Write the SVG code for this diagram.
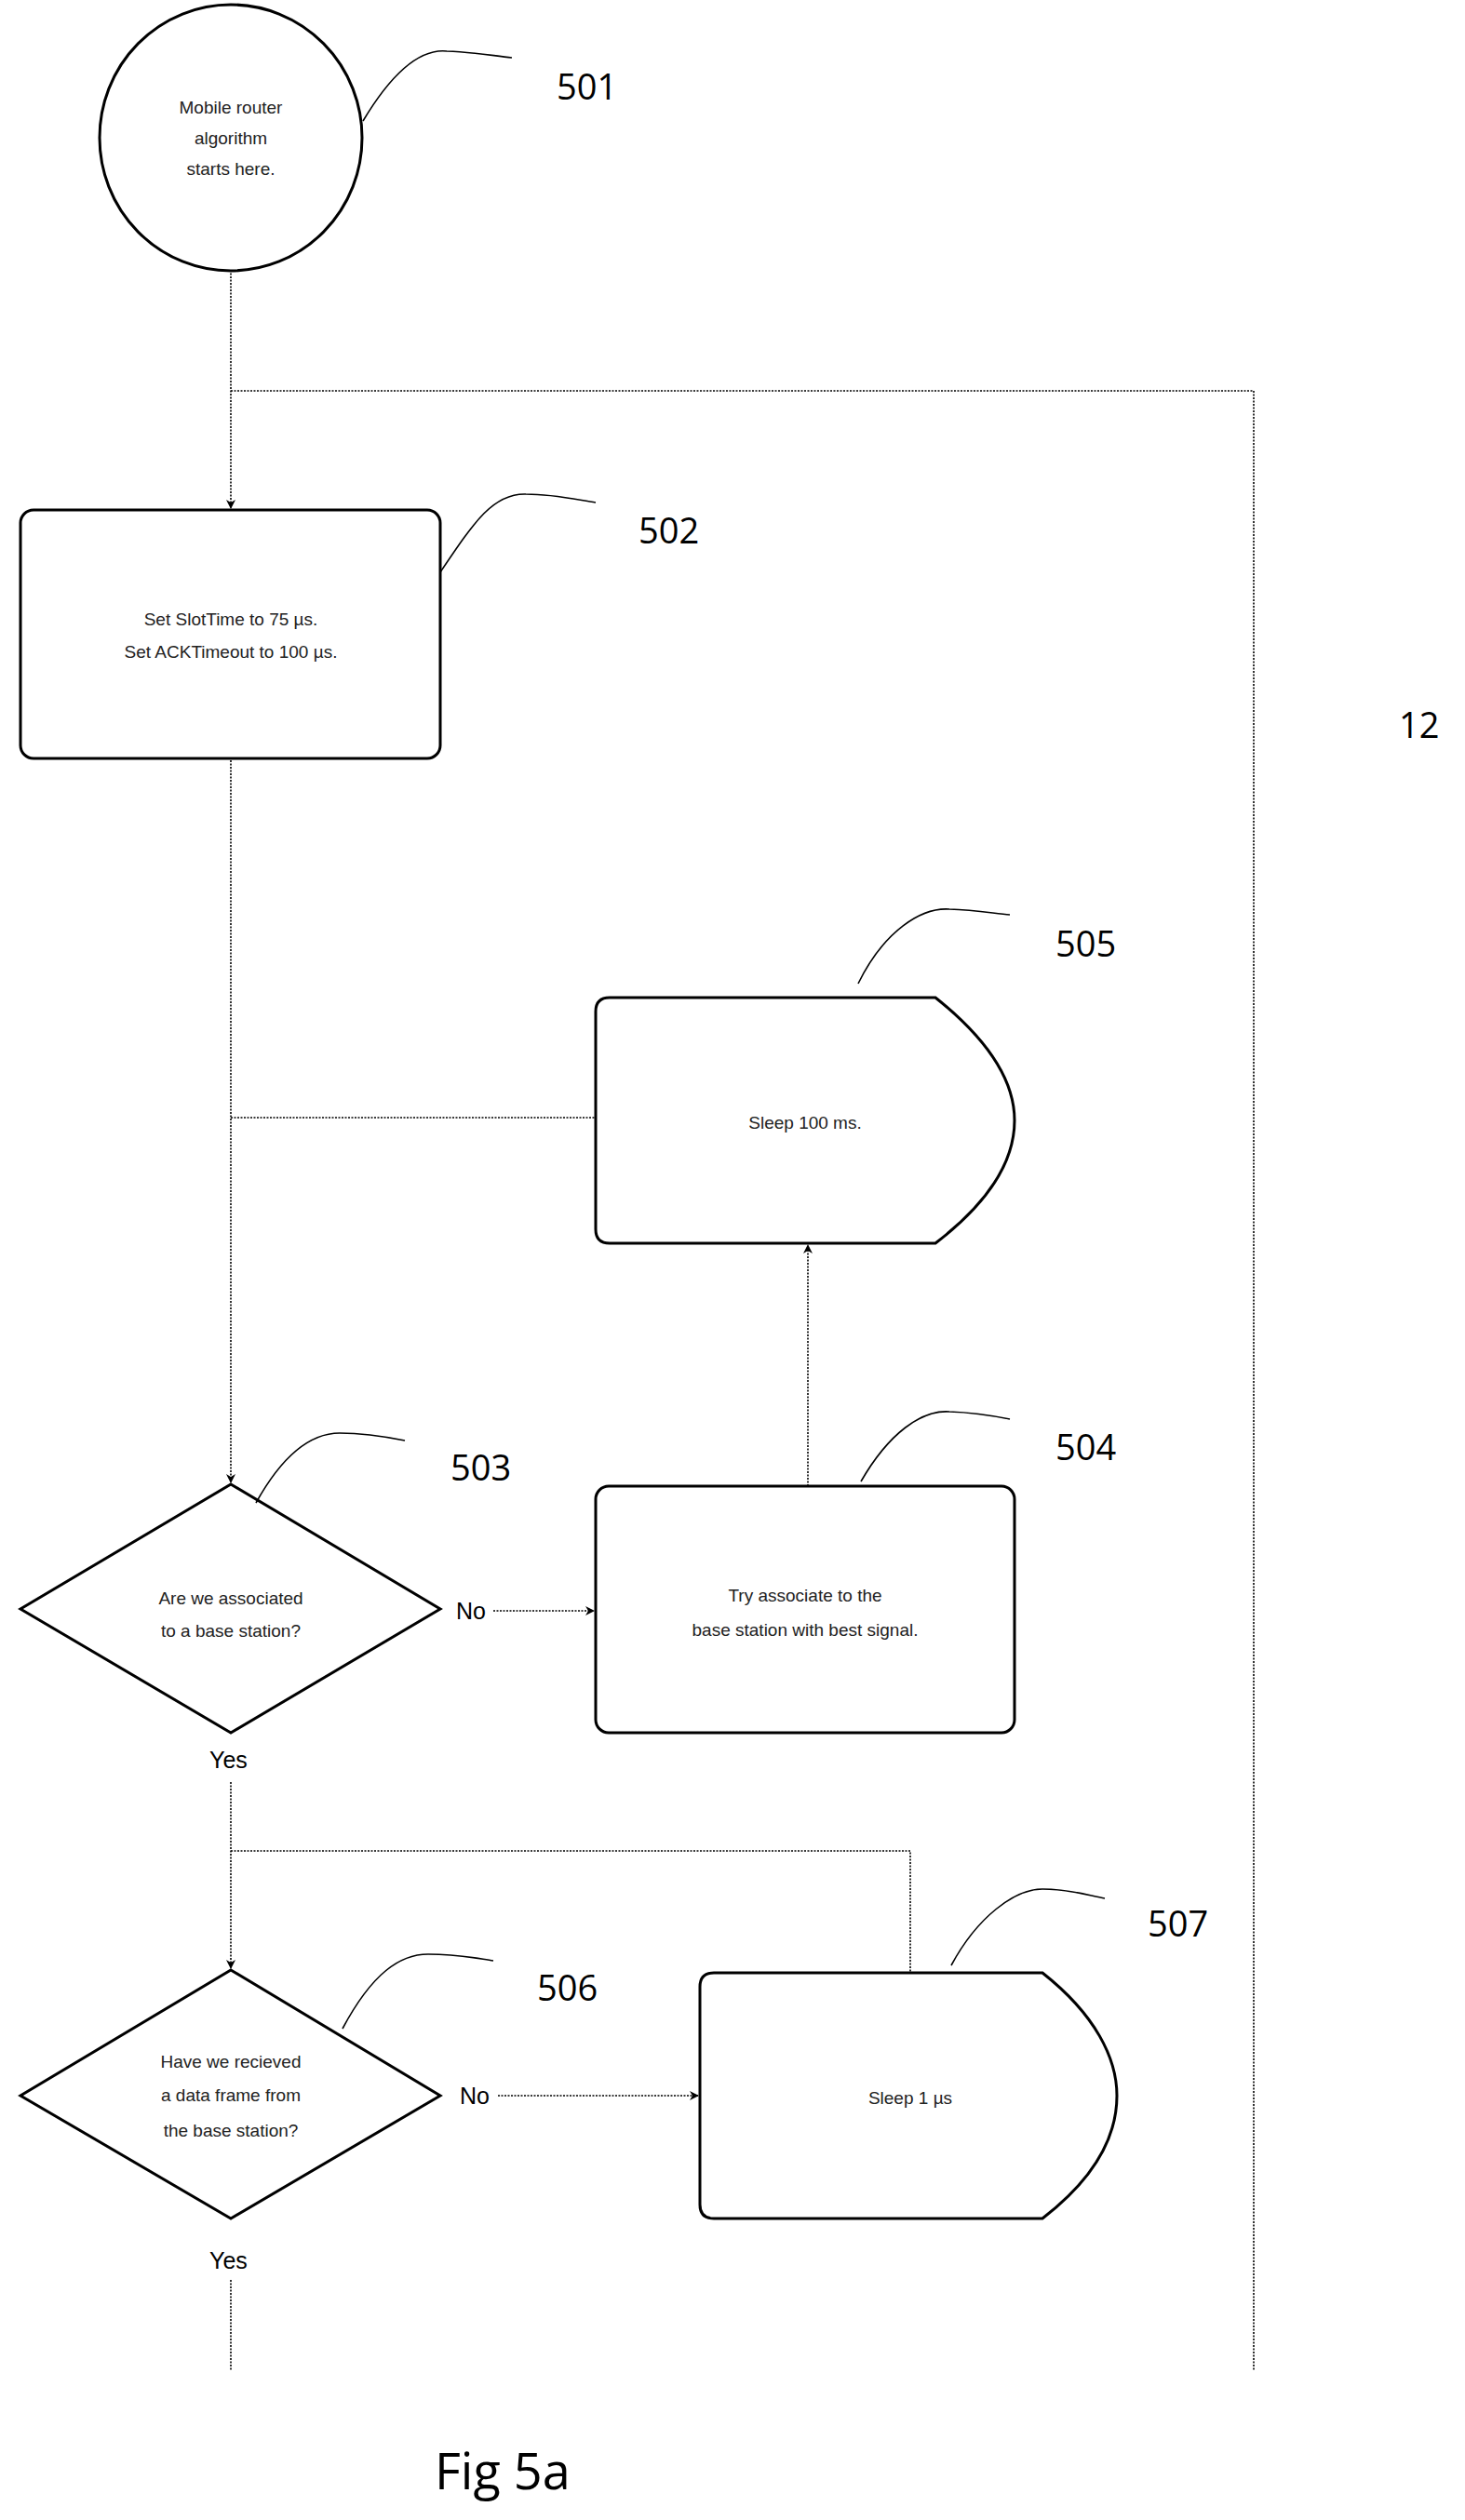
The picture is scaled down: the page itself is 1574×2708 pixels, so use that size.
<svg xmlns="http://www.w3.org/2000/svg" width="1574" height="2708" viewBox="0 0 1574 2708">
<style>
.sh{fill:#fff;stroke:#000;stroke-width:3}
.c{fill:none;stroke:#000;stroke-width:1.6;stroke-dasharray:2 1.5}
.cl{fill:none;stroke:#000;stroke-width:1.6}
.t{font-family:"Liberation Sans",Arial,sans-serif;font-size:19px;text-anchor:middle;fill:#222}
.l{font-family:"Open Sans","Liberation Sans",sans-serif;font-size:38px;fill:#000}
.y{font-family:"Liberation Sans",Arial,sans-serif;font-size:25px;fill:#000}
</style>
<defs><marker id="a" markerWidth="10" markerHeight="10" refX="9" refY="5" orient="auto" markerUnits="userSpaceOnUse" viewBox="0 0 10 10"><path d="M0,0 L10,5 L0,10 L3,5 Z" fill="#000"/></marker></defs>
<rect width="1574" height="2708" fill="#fff"/>
<g id="connectors">
<path class="c" d="M248,290 V546" marker-end="url(#a)"/>
<path class="c" d="M248,420 H1347 V2548"/>
<path class="c" d="M248,817 V1593" marker-end="url(#a)"/>
<path class="c" d="M248,1201 H640"/>
<path class="c" d="M868,1597 V1338" marker-end="url(#a)"/>
<path class="c" d="M530,1731 H638" marker-end="url(#a)"/>
<path class="c" d="M248,1915 V2115" marker-end="url(#a)"/>
<path class="c" d="M248,1989 H978 V2120"/>
<path class="c" d="M535,2252 H750" marker-end="url(#a)"/>
<path class="c" d="M248,2450 V2548"/>
<text class="y" x="490" y="1740">No</text>
<text class="y" x="225" y="1900">Yes</text>
<text class="y" x="494" y="2261">No</text>
<text class="y" x="225" y="2438">Yes</text>
</g>
<g id="n501">
<ellipse class="sh" cx="248" cy="148" rx="141" ry="143"/>
<text class="t" x="248" y="122">Mobile router</text>
<text class="t" x="248" y="155">algorithm</text>
<text class="t" x="248" y="188">starts here.</text>
<path class="cl" d="M390,130 C420,80 450,52 480,55 C510,56 530,60 550,62"/>
<text class="l" x="598" y="107">501</text>
</g>
<g id="n502">
<rect class="sh" x="22" y="548" width="451" height="267" rx="14"/>
<text class="t" x="248" y="672">Set SlotTime to 75 µs.</text>
<text class="t" x="248" y="707">Set ACKTimeout to 100 µs.</text>
<path class="cl" d="M473,615 C510,560 530,530 565,531 C595,531 620,537 640,540"/>
<text class="l" x="686" y="584">502</text>
</g>
<g id="n505">
<path class="sh" d="M655,1072 H1005 C1065,1120 1090,1165 1090,1204 C1090,1245 1065,1290 1005,1336 H655 Q640,1336 640,1321 V1087 Q640,1072 655,1072 Z"/>
<text class="t" x="865" y="1213">Sleep 100 ms.</text>
<path class="cl" d="M922,1057 C950,1000 990,975 1020,977 C1050,978 1070,982 1085,983"/>
<text class="l" x="1134" y="1028">505</text>
</g>
<g id="n504">
<rect class="sh" x="640" y="1597" width="450" height="265" rx="14"/>
<text class="t" x="865" y="1721">Try  associate to the</text>
<text class="t" x="865" y="1758">base station with best signal.</text>
<path class="cl" d="M925,1592 C955,1540 990,1515 1020,1517 C1050,1518 1070,1522 1085,1525"/>
<text class="l" x="1134" y="1569">504</text>
</g>
<g id="n503">
<path class="sh" d="M248,1595 L473,1729 L248,1862 L22,1729 Z"/>
<text class="t" x="248" y="1724">Are we associated</text>
<text class="t" x="248" y="1759">to a base station?</text>
<path class="cl" d="M275,1615 C300,1570 330,1540 365,1540 C395,1540 420,1545 435,1548"/>
<text class="l" x="484" y="1591">503</text>
</g>
<g id="n506">
<path class="sh" d="M248,2117 L473,2252 L248,2384 L22,2252 Z"/>
<text class="t" x="248" y="2222">Have we recieved</text>
<text class="t" x="248" y="2258">a data frame from</text>
<text class="t" x="248" y="2296">the base station?</text>
<path class="cl" d="M368,2180 C400,2120 430,2100 460,2100 C495,2100 515,2105 530,2107"/>
<text class="l" x="577" y="2150">506</text>
</g>
<g id="n507">
<path class="sh" d="M767,2120 H1120 C1177,2165 1200,2212 1200,2252 C1200,2295 1177,2340 1120,2384 H767 Q752,2384 752,2369 V2135 Q752,2120 767,2120 Z"/>
<text class="t" x="978" y="2261">Sleep 1 µs</text>
<path class="cl" d="M1022,2112 C1050,2060 1090,2030 1120,2030 C1150,2030 1170,2037 1187,2040"/>
<text class="l" x="1233" y="2081">507</text>
</g>
<text class="l" x="1503" y="793">12</text>
<text class="l" x="467" y="2675" style="font-size:54px">Fig 5a</text>
</svg>
